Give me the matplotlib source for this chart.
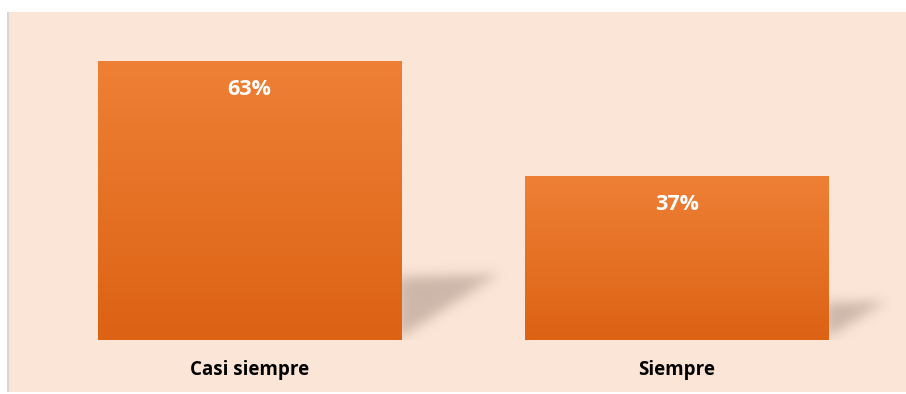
import matplotlib
matplotlib.use("Agg")
import matplotlib.pyplot as plt
import numpy as np
from matplotlib.patches import Rectangle
from matplotlib.path import Path

categories = ['Casi siempre', 'Siempre']
values = [63, 37]
labels = ['63%', '37%']

W, H = 906, 394
fig = plt.figure(figsize=(W / 100, H / 100), dpi=100)
fig.patch.set_facecolor('white')

# peach panel with a thin grey edge on the left
fig.patches.append(Rectangle((9 / W, 2 / H), 1 - 9 / W, (H - 14) / H,
                             transform=fig.transFigure, facecolor='#FBE5D6',
                             edgecolor='none', zorder=-2))
fig.patches.append(Rectangle((7 / W, 2 / H), 2 / W, (H - 14) / H,
                             transform=fig.transFigure, facecolor='#D6D6D6',
                             edgecolor='none', zorder=-2))

# axes placed so that bars land where they are in the picture
ax_left = 35.75 / W
ax_w = 855 / W
ax_bottom = (H - 340) / H
ax_h = 310 / H
ax = fig.add_axes([ax_left, ax_bottom, ax_w, ax_h])
ax.set_zorder(1)
ax.patch.set_visible(False)
ax.set_xlim(-0.5, 1.5)
ax.set_ylim(0, 70)
ax.axis('off')

bar_w = 0.709
x = np.arange(len(categories))

# soft shadows to the right of each bar
gx = np.linspace(-0.5, 1.5, 900)
gy = np.linspace(0, 70, 320)
XX, YY = np.meshgrid(gx, gy)
pts = np.column_stack([XX.ravel(), YY.ravel()])
mask = np.zeros(XX.shape)
for xi, v in zip(x, values):
    edge = xi + bar_w / 2
    tri = Path([(edge - 0.01, 0), (edge - 0.01, v * 0.225),
                (edge + v * 0.0036, v * 0.235), (edge - 0.01, 0)])
    mask = np.maximum(mask, tri.contains_points(pts).reshape(XX.shape).astype(float))

def blur(a, sigma, axis):
    k = np.arange(-3 * sigma, 3 * sigma + 1)
    k = np.exp(-k ** 2 / (2 * sigma ** 2))
    k /= k.sum()
    return np.apply_along_axis(lambda r: np.convolve(r, k, mode='same'), axis, a)

mask = blur(blur(mask, 7, 1), 6, 0)
shadow = np.zeros(XX.shape + (4,))
shadow[..., 0] = 0.55
shadow[..., 1] = 0.47
shadow[..., 2] = 0.42
shadow[..., 3] = mask * 0.42
ax.imshow(shadow, extent=(-0.5, 1.5, 0, 70), origin='lower', aspect='auto',
          zorder=1, interpolation='bilinear')

# gradient bars
grad = np.linspace(0, 1, 256).reshape(-1, 1)
top = np.array([0xEE, 0x80, 0x36]) / 255
bot = np.array([0xDC, 0x62, 0x14]) / 255
for xi, v, lab in zip(x, values, labels):
    cols = bot + (top - bot) * grad
    img = cols.reshape(256, 1, 3)
    bar = ax.bar(xi, v, width=bar_w, color='none', edgecolor='none', zorder=2)[0]
    im = ax.imshow(img, extent=(xi - bar_w / 2, xi + bar_w / 2, 0, v),
                   origin='lower', aspect='auto', zorder=2)
    im.set_clip_path(bar)
    ax.text(xi, v - 6.5, lab, ha='center', va='center', color='white',
            fontsize=15.5, fontweight='bold', family='Open Sans', zorder=3)

for xi, c in zip(x, categories):
    ax.text(xi, -6.8, c, ha='center', va='center', color='black',
            fontsize=13.5, fontweight='bold', family='Open Sans', clip_on=False)

ax.set_xlim(-0.5, 1.5)
ax.set_ylim(0, 70)
fig.savefig('out.png', dpi=100, facecolor=fig.get_facecolor())
